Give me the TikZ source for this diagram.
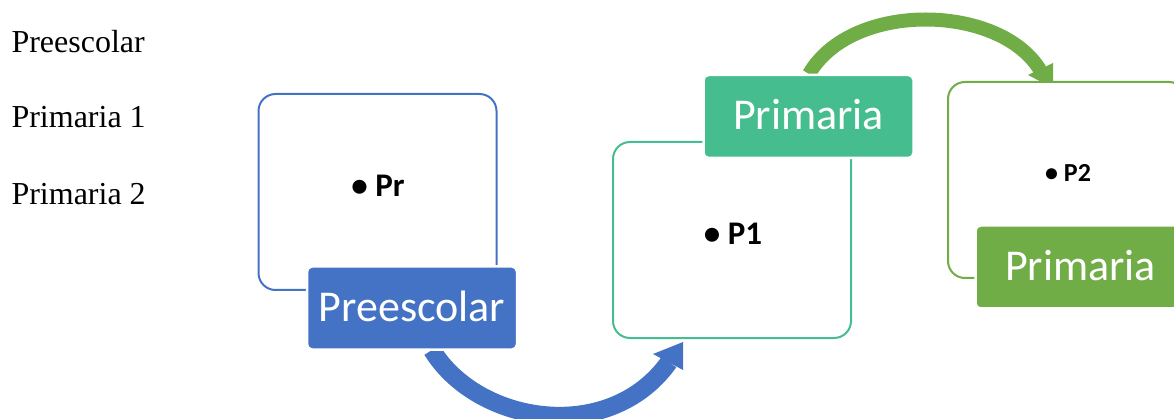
\documentclass[tikz,border=0pt]{standalone}
\usepackage{fontspec}
\setmainfont{Liberation Serif}
\newfontfamily\calfont{Carlito}
\usetikzlibrary{arrows.meta}
\definecolor{cblue}{HTML}{4472C4}
\definecolor{cteal}{HTML}{45BD8F}
\definecolor{cgreen}{HTML}{70AD47}
\begin{document}
\begin{tikzpicture}[x=1pt,y=-1pt,
  cbox/.style={draw=#1, line width=2pt, fill=white, rounded corners=17pt,
    minimum width=238pt, minimum height=196pt, inner sep=0pt},
  clabel/.style={fill=#1, draw=white, line width=2.5pt, rounded corners=5pt,
    minimum width=210pt, minimum height=83pt, inner sep=0pt, text=white,
    text height=28pt, text depth=1pt,
    font=\calfont\fontsize{44}{50}\selectfont},
  bul/.style={anchor=base, font=\calfont\bfseries\fontsize{#1}{#1}\selectfont},
  side/.style={anchor=base west, font=\fontsize{32}{36}\selectfont},
  band/.style={draw=#1, line width=18pt},
  head/.style={fill=#1}]
\useasboundingbox (0,0) rectangle (1174,419);
\clip (0,0) rectangle (1174,419);

% side list
\node[side] (t1) at (8,53) {Preescolar};
\node[side] (t2) at (8,128) {Primaria 1};
\node[side] (t3) at (8,205) {Primaria 2};

% arrows
\coordinate (a1s) at (432,350);
\coordinate (a1e) at (669,362);
\draw[band=cblue] (a1s) .. controls (478,425) and (610,445) .. (a1e);
\fill[head=cblue] (653,354) -- (683,342) -- (683,370) -- cycle;

\coordinate (a2s) at (809,74);
\coordinate (a2e) at (1040,70);
\draw[band=cgreen, line width=14pt] (a2s) .. controls (852,0) and (1000,4) .. (a2e);
\fill[head=cgreen] (1028,75) -- (1053,63) -- (1053,88) -- cycle;

% boxes
\node[cbox=cblue] (b1) at (377.5,192) {};
\node[cbox=cteal] (b2) at (732,240) {};
\node[cbox=cgreen] (b3) at (1067,180) {};

% labels
\node[clabel=cblue] (l1) at (412,308) {Preescolar};
\node[clabel=cteal] (l2) at (808.5,116.5) {Primaria};
\node[clabel=cgreen] (l3) at (1080.5,267) {Primaria};

% contents
\node[bul=33] (c1) at (378,197) {• Pr};
\node[bul=33] (c2) at (733,245) {• P1};
\node[bul=26] (c3) at (1068,182) {• P2};
\end{tikzpicture}
\end{document}
